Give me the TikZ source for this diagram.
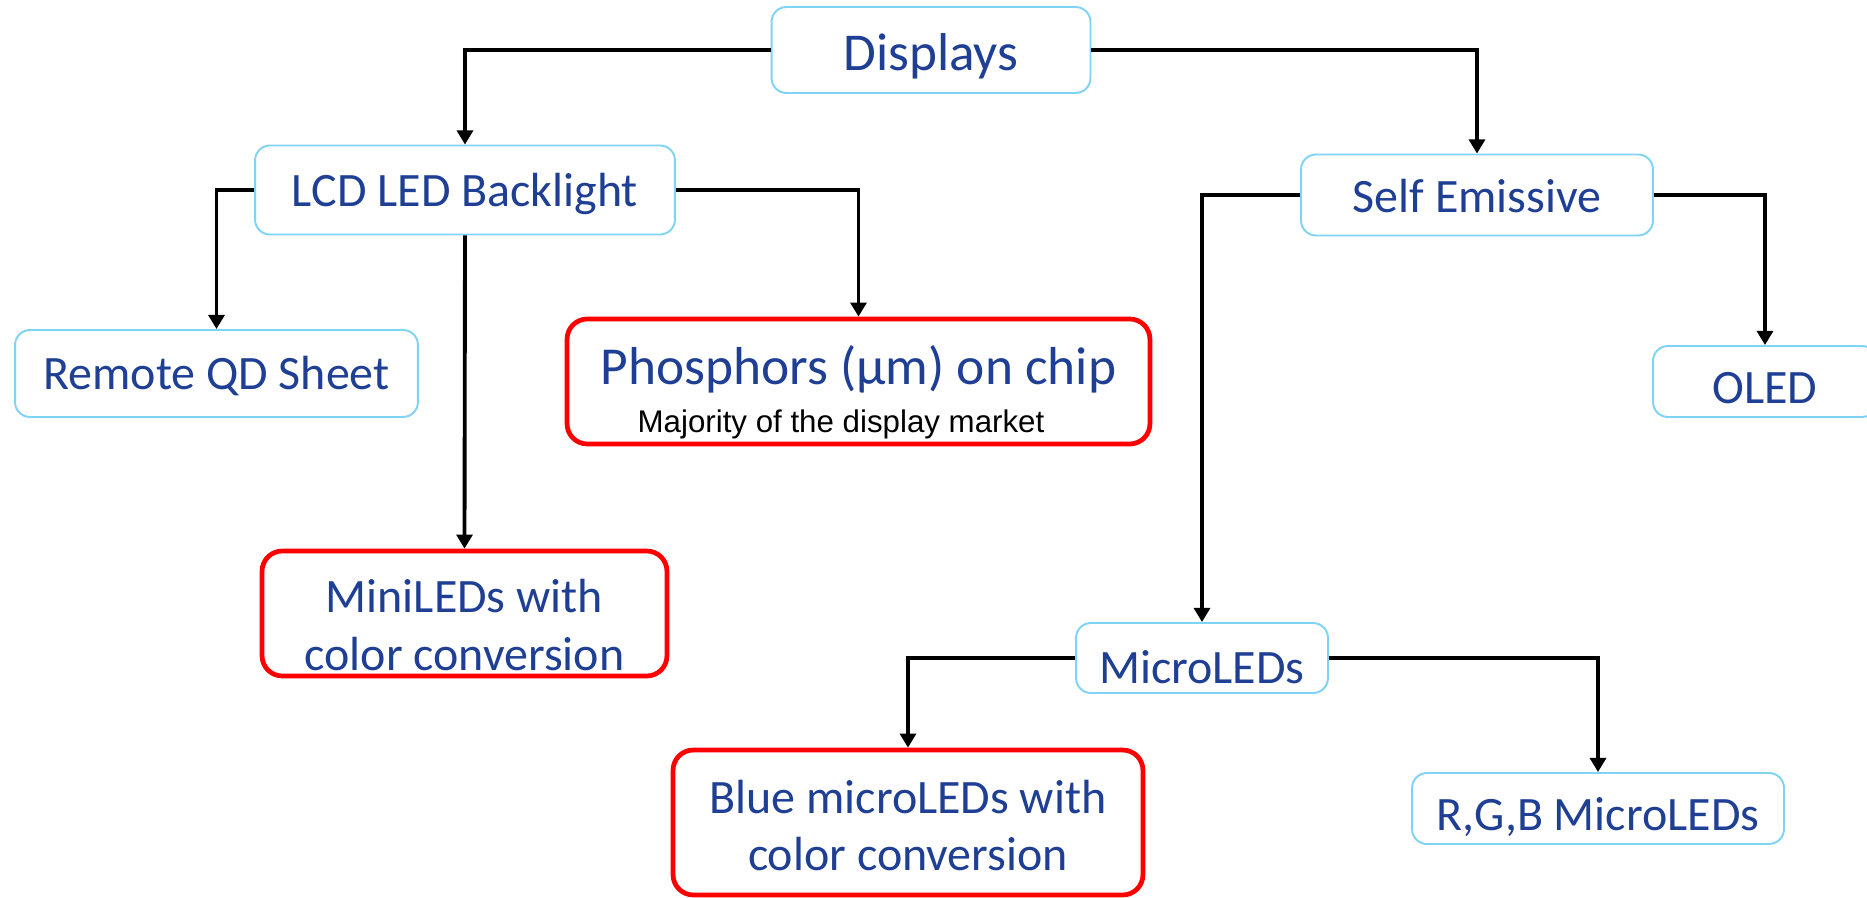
\documentclass[tikz,border=0pt]{standalone}
\usepackage{fontspec}
\setmainfont{Carlito}
\newfontfamily\arialfont{Liberation Sans}
\usepackage{xcolor}
\usetikzlibrary{arrows.meta, positioning}
\definecolor{boxblue}{HTML}{7FD3F5}
\definecolor{textblue}{HTML}{1F3F94}
\definecolor{alert}{HTML}{FF0000}

\begin{document}
\begin{tikzpicture}[
  x=0.02cm, y=-0.02cm,
  item/.style={rectangle, rounded corners=8.5pt, draw=boxblue, line width=1.1pt, fill=white, align=center, text=textblue, font=\fontsize{27.3}{33}\selectfont, inner sep=0pt},
  focus/.style={item, draw=alert, line width=2.7pt, rounded corners=11.5pt},
  drop/.style={text height=#1, text depth=0pt},
  arrow/.style={-{Triangle[width=9pt,length=8pt]}, line width=2.2pt, black},
]
  \useasboundingbox (0,0) rectangle (1867,898);

  \node[item, drop=22.8pt, minimum width=6.38cm, minimum height=1.72cm, font=\fontsize{30.3}{34}\selectfont] (displays) at (931,50) {Displays};
  \node[item, drop=19pt, minimum width=8.4cm, minimum height=1.78cm] (lcd) at (465,190) {LCD LED Backlight};
  \node[item, drop=20pt, minimum width=7.04cm, minimum height=1.62cm] (self) at (1477,195) {Self Emissive};
  \node[item, drop=18.5pt, minimum width=8.06cm, minimum height=1.74cm] (remote) at (216.5,373.5) {Remote QD Sheet};
  \node[focus, drop=57.5pt, minimum width=11.66cm, minimum height=2.5cm, font=\fontsize{30.4}{27}\selectfont] (phosphor) at (858.5,381.5) {Phosphors (µm) on chip\\{\arialfont\color{black}\fontsize{17.8}{20}\selectfont Majority of the display market\hspace*{0.7cm}}};
  \node[item, drop=24.5pt, minimum width=4.48cm, minimum height=1.42cm] (oled) at (1765,381.5) {OLED};
  \node[focus, drop=64.4pt, minimum width=8.1cm, minimum height=2.5cm] (mini) at (464.5,613.5) {MiniLEDs with\\color conversion};
  \node[item, drop=28.5pt, minimum width=5.04cm, minimum height=1.4cm] (micro) at (1202,658) {MicroLEDs};
  \node[focus, drop=55.2pt, minimum width=9.4cm, minimum height=2.9cm] (blue) at (908,822.5) {Blue microLEDs with\\color conversion};
  \node[item, drop=25pt, minimum width=7.44cm, minimum height=1.42cm] (rgb) at (1598,808.5) {R,G,B MicroLEDs};

  \draw[arrow] (displays.west) -| (lcd.north);
  \draw[arrow] (displays.east) -| (self.north);
  \draw[arrow] (lcd.west) -| (remote.north);
  \draw[arrow] (lcd.south) -- (mini.north);
  \draw[arrow] (lcd.east) -| (phosphor.north);
  \draw[arrow] (self.west) -| (micro.north);
  \draw[arrow] (self.east) -| (oled.north);
  \draw[arrow] (micro.west) -| (blue.north);
  \draw[arrow] (micro.east) -| (rgb.north);

\end{tikzpicture}
\end{document}
